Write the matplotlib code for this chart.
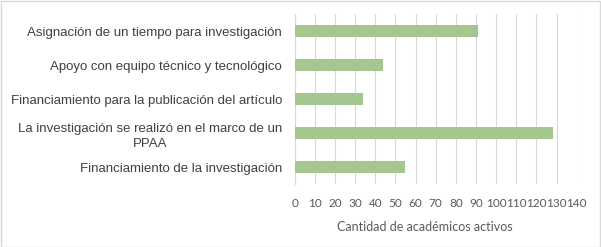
import numpy as np
import matplotlib
matplotlib.use('Agg')
import matplotlib.pyplot as plt
from matplotlib.patches import Rectangle

categories = [
    'Asignación de un tiempo para investigación',
    'Apoyo con equipo técnico y tecnológico',
    'Financiamiento para la publicación del artículo',
    'La investigación se realizó en el marco de un\nPPAA',
    'Financiamiento de la investigación',
]
values = [91, 44, 34, 128, 55]
xticks = list(range(0, 141, 10))
xlabel = 'Cantidad de académicos activos'

W, H = 601, 247
fig = plt.figure(figsize=(W / 100, H / 100), dpi=100)
ax = fig.add_axes([294.7 / W, 1 - 184 / H, (576.7 - 294.7) / W, (184 - 14) / H])

y = np.arange(len(categories))
ax.barh(y, values, height=0.35, color='#A5C78F', zorder=3)
ax.set_ylim(len(categories) - 0.5, -0.5)
ax.set_xlim(0, 140)
ax.set_xticks(xticks)
ax.set_xticklabels([str(t) for t in xticks], fontsize=8.5, color='#595959', family='Lato')
ax.set_yticks(y)
ax.set_yticklabels(categories, fontsize=9.5, color='#404040', family='Liberation Sans',
                   linespacing=1.35)
for lbl in ax.get_yticklabels():
    lbl.set_multialignment('center')
ax.tick_params(axis='both', length=0)
ax.tick_params(axis='y', pad=9)
ax.tick_params(axis='x', pad=10)
ax.grid(axis='x', color='#d9d9d9', linewidth=0.8, zorder=0)
for s in ['top', 'right', 'bottom']:
    ax.spines[s].set_visible(False)
ax.spines['left'].set_color('#d9d9d9')
ax.set_xlabel(xlabel, fontsize=9, color='#595959', family='Lato')
ax.xaxis.set_label_coords(0.46, -0.22)

fig.patches.append(Rectangle((0.5 / W, 0.5 / H), 1 - 1.5 / W, 1 - 1.5 / H,
                             transform=fig.transFigure, fill=False,
                             edgecolor='#d9d9d9', linewidth=1))

fig.savefig('out.png', dpi=100, facecolor='white')
